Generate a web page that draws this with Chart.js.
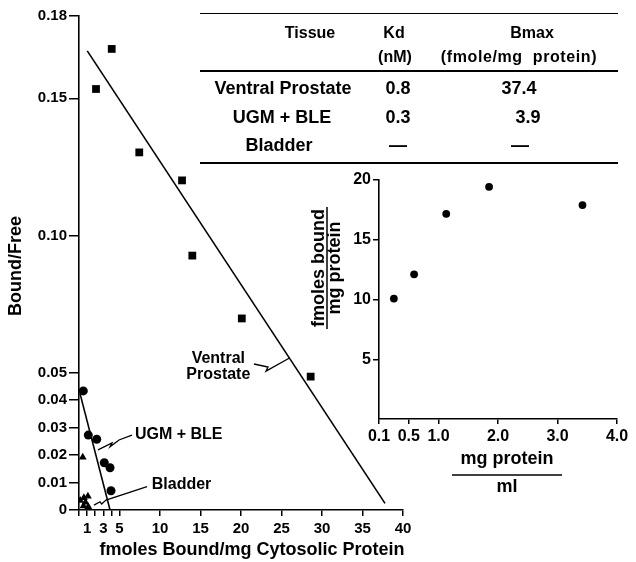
<!DOCTYPE html>
<html>
<head>
<meta charset="utf-8">
<script src="https://cdn.jsdelivr.net/npm/chart.js@4.4.0/dist/chart.umd.min.js"></script>
<style>
  html, body { margin: 0; padding: 0; background: #fff; }
  #fig { position: relative; width: 636px; height: 562px; overflow: hidden;
         font-family: 'Liberation Sans', Arial, Helvetica, sans-serif; font-weight: bold; color: #000; }
  #fig canvas { position: absolute; left: 0; top: 0; }
  .t { position: absolute; transform: translate(-50%, -50%); white-space: pre; line-height: 1; }
  .rule { position: absolute; height: 1.6px; background: #000; }
</style>
</head>
<body>
<div id="fig">
  <canvas id="main" width="636" height="562"></canvas>
  <canvas id="inset" width="636" height="562"></canvas>
</div>
<script>
const FONT = "'Liberation Sans', Arial, Helvetica, sans-serif";

// Scatchard plot: bound (fmoles/mg) vs bound/free
const prostateBound = [2.1, 4.04, 7.44, 12.72, 13.99, 20.1, 28.6];
const prostateRatio = [0.1534, 0.168, 0.1303, 0.1201, 0.0927, 0.0698, 0.0486];
const ugmBound = [0.53, 1.15, 2.19, 3.12, 3.83, 3.95];
const ugmRatio = [0.0434, 0.0273, 0.0258, 0.0172, 0.0154, 0.0070];
const bladderBound = [0.46, 0.15, 0.6, 1.1, 0.8, 0.55, 1.15];
const bladderRatio = [0.0192, 0.0035, 0.0045, 0.005, 0.0028, 0.0015, 0.0012];
const prostateFitBound = [1.02, 37.78];
const prostateFitRatio = [0.1673, 0.0024];
const ugmFitBound = [0.12, 3.83];
const ugmFitRatio = [0.0425, 0];
const ratioTicks = [0, 0.01, 0.02, 0.03, 0.04, 0.05, 0.10, 0.15, 0.18];
const boundTicks = [0, 1, 2, 3, 4, 5, 10, 15, 20, 25, 30, 35, 40];
const boundLabels = [1, 3, 5, 10, 15, 20, 25, 30, 35, 40];

// inset: fmoles bound/mg protein vs mg protein/ml
// (the axis origin is labelled 0.1 in the original)
const proteinConc = [0.25, 0.59, 1.13, 1.85, 3.42];
const fmolesBound = [10.08, 12.11, 17.17, 19.43, 17.9];
const proteinTicks = [0, 0.5, 1, 2, 3, 4];
const proteinTickLabels = ['0.1', '0.5', '1.0', '2.0', '3.0', '4.0'];
const fmolesTicks = [5, 10, 15, 20];

// table
const tissues = ['Ventral Prostate', 'UGM + BLE', 'Bladder'];
const kdValues = ['0.8', '0.3', '—'];
const bmaxValues = ['37.4', '3.9', '—'];

const pts = (xs, ys) => xs.map((x, i) => ({ x, y: ys[i] }));

const fig = document.getElementById('fig');
function label(text, cx, cy, size, extra) {
  const d = document.createElement('div');
  d.className = 't';
  d.textContent = text;
  d.style.left = cx + 'px';
  d.style.top = cy + 'px';
  d.style.fontSize = size + 'px';
  if (extra) Object.assign(d.style, extra);
  fig.appendChild(d);
}
function rule(x, y, w) {
  const d = document.createElement('div');
  d.className = 'rule';
  d.style.left = x + 'px'; d.style.top = y + 'px'; d.style.width = w + 'px';
  fig.appendChild(d);
}

// table header + rows
rule(200, 12.5, 418);
label('Tissue', 310, 33, 16);
label('Kd', 394, 33, 16);
label('(nM)', 395, 57, 16);
label('Bmax', 532, 33, 16);
label('(fmole/mg  protein)', 519, 57, 16, { letterSpacing: '0.6px' });
rule(200, 70, 418);
const tissueX = [283, 282, 279];
const bmaxX = [519, 528, 520];
const rowY = [88, 117, 145];
tissues.forEach((t, i) => {
  label(t, tissueX[i], rowY[i], 18);
  label(kdValues[i], 398, rowY[i], 18);
  label(bmaxValues[i], bmaxX[i], rowY[i], 18);
});
rule(200, 162, 418);

// leader lines (in data units), zigzag like the original
function leader(ctx, x, y, path) {
  ctx.beginPath();
  path.forEach(([a, b], i) => {
    const px = x.getPixelForValue(a), py = y.getPixelForValue(b);
    if (i === 0) ctx.moveTo(px, py); else ctx.lineTo(px, py);
  });
  ctx.stroke();
}

const mainDecor = {
  id: 'mainDecor',
  afterDraw(chart) {
    const { ctx, scales: { x, y } } = chart;
    ctx.save();
    ctx.fillStyle = '#000';
    ctx.strokeStyle = '#000';
    ctx.lineWidth = 1.3;
    ctx.textBaseline = 'middle';

    ctx.font = `bold 18px ${FONT}`;
    ctx.textAlign = 'center';
    ctx.fillText('fmoles Bound/mg Cytosolic Protein', 252, 550);
    ctx.save();
    ctx.translate(16, 266);
    ctx.rotate(-Math.PI / 2);
    ctx.fillText('Bound/Free', 0, 0);
    ctx.restore();

    ctx.font = `bold 16px ${FONT}`;
    ctx.fillText('Ventral', x.getPixelForValue(17.2), y.getPixelForValue(0.0553));
    ctx.fillText('Prostate', x.getPixelForValue(17.2), y.getPixelForValue(0.0492));
    ctx.textAlign = 'left';
    ctx.fillText('UGM + BLE', x.getPixelForValue(6.9), y.getPixelForValue(0.0273));
    ctx.fillText('Bladder', x.getPixelForValue(8.98), y.getPixelForValue(0.0091));

    leader(ctx, x, y, [[21.6, 0.0532], [23.33, 0.0521], [23.09, 0.0506], [25.93, 0.0553]]);
    leader(ctx, x, y, [[2.35, 0.0219], [4.07, 0.0244], [3.83, 0.0230], [4.94, 0.0255], [6.54, 0.0273]]);
    leader(ctx, x, y, [[1.85, 0.0018], [2.59, 0.0030], [2.8, 0.0022], [3.33, 0.0036], [8.4, 0.0085]]);
    ctx.restore();
  }
};

const tickFont = { family: FONT, weight: 'bold', size: 15 };
const black = '#000';

new Chart(document.getElementById('main'), {
  type: 'scatter',
  data: {
    datasets: [
      { label: 'Ventral Prostate fit', data: pts(prostateFitBound, prostateFitRatio), showLine: true,
        pointRadius: 0, borderColor: black, borderWidth: 1.6 },
      { label: 'UGM + BLE fit', data: pts(ugmFitBound, ugmFitRatio), showLine: true,
        pointRadius: 0, borderColor: black, borderWidth: 1.6 },
      { label: 'Ventral Prostate', data: pts(prostateBound, prostateRatio), pointStyle: 'rect',
        pointRadius: 5.5, backgroundColor: black, borderColor: black, borderWidth: 0 },
      { label: 'UGM + BLE', data: pts(ugmBound, ugmRatio), pointStyle: 'circle',
        pointRadius: 4.5, backgroundColor: black, borderColor: black, borderWidth: 0 },
      { label: 'Bladder', data: pts(bladderBound, bladderRatio), pointStyle: 'triangle',
        pointRadius: 4.5, backgroundColor: black, borderColor: black, borderWidth: 0 }
    ]
  },
  options: {
    responsive: false,
    animation: false,
    devicePixelRatio: 1,
    layout: { padding: { top: 16, right: 233, bottom: 0, left: 0 } },
    plugins: { legend: { display: false }, tooltip: { enabled: false } },
    scales: {
      x: {
        type: 'linear', min: 0, max: 40,
        afterBuildTicks: s => { s.ticks = boundTicks.map(v => ({ value: v })); },
        afterFit: s => { s.height = 52; },
        ticks: { autoSkip: false, maxRotation: 0, font: tickFont, color: black, padding: 4,
                 callback: v => boundLabels.includes(v) ? String(v) : '' },
        grid: { drawOnChartArea: false, tickLength: 6, color: black, lineWidth: 1.5 },
        border: { color: black, width: 1.6 }
      },
      y: {
        type: 'linear', min: 0, max: 0.18,
        afterBuildTicks: s => { s.ticks = ratioTicks.map(v => ({ value: v })); },
        afterFit: s => { s.width = 79; },
        ticks: { font: tickFont, color: black, padding: 2,
                 callback: v => v === 0 ? '0' : v.toFixed(2) },
        grid: { drawOnChartArea: false, tickLength: 10, color: black, lineWidth: 1.5 },
        border: { color: black, width: 1.6 }
      }
    }
  },
  plugins: [mainDecor]
});

const insetDecor = {
  id: 'insetDecor',
  afterDraw(chart) {
    const { ctx } = chart;
    ctx.save();
    ctx.fillStyle = black;
    ctx.strokeStyle = black;
    ctx.lineWidth = 1.5;
    ctx.font = `bold 18px ${FONT}`;
    ctx.textAlign = 'center';
    ctx.textBaseline = 'alphabetic';
    // y title as a fraction, rotated
    ctx.save();
    ctx.translate(327, 268);
    ctx.rotate(-Math.PI / 2);
    ctx.fillText('fmoles bound', 0, -3);
    ctx.fillText('mg protein', 0, 13);
    ctx.beginPath();
    ctx.moveTo(-61, 0); ctx.lineTo(61, 0);
    ctx.stroke();
    ctx.restore();
    // x title as a fraction
    ctx.fillText('mg protein', 507, 464);
    ctx.beginPath();
    ctx.moveTo(452, 475); ctx.lineTo(562, 475);
    ctx.stroke();
    ctx.fillText('ml', 507, 492);
    ctx.restore();
  }
};

const insetFont = { family: FONT, weight: 'bold', size: 16 };

new Chart(document.getElementById('inset'), {
  type: 'scatter',
  data: {
    datasets: [{ label: 'fmoles bound', data: pts(proteinConc, fmolesBound), pointStyle: 'circle',
                 pointRadius: 3.9, backgroundColor: black, borderColor: black, borderWidth: 0 }]
  },
  options: {
    responsive: false,
    animation: false,
    devicePixelRatio: 1,
    layout: { padding: { top: 180, right: 19, bottom: 0, left: 0 } },
    plugins: { legend: { display: false }, tooltip: { enabled: false } },
    scales: {
      x: {
        type: 'linear', min: 0, max: 4,
        afterBuildTicks: s => { s.ticks = proteinTicks.map(v => ({ value: v })); },
        afterFit: s => { s.height = 143; },
        ticks: { autoSkip: false, maxRotation: 0, font: insetFont, color: black, padding: 3,
                 callback: (v, i) => proteinTickLabels[i] },
        grid: { drawOnChartArea: false, tickLength: 5, color: black, lineWidth: 1.5 },
        border: { color: black, width: 1.6 }
      },
      y: {
        type: 'linear', min: 0, max: 20,
        afterBuildTicks: s => { s.ticks = fmolesTicks.map(v => ({ value: v })); },
        afterFit: s => { s.width = 379; },
        ticks: { font: insetFont, color: black, padding: 2 },
        grid: { drawOnChartArea: false, tickLength: 6, color: black, lineWidth: 1.5 },
        border: { color: black, width: 1.6 }
      }
    }
  },
  plugins: [insetDecor]
});
</script>
</body>
</html>
